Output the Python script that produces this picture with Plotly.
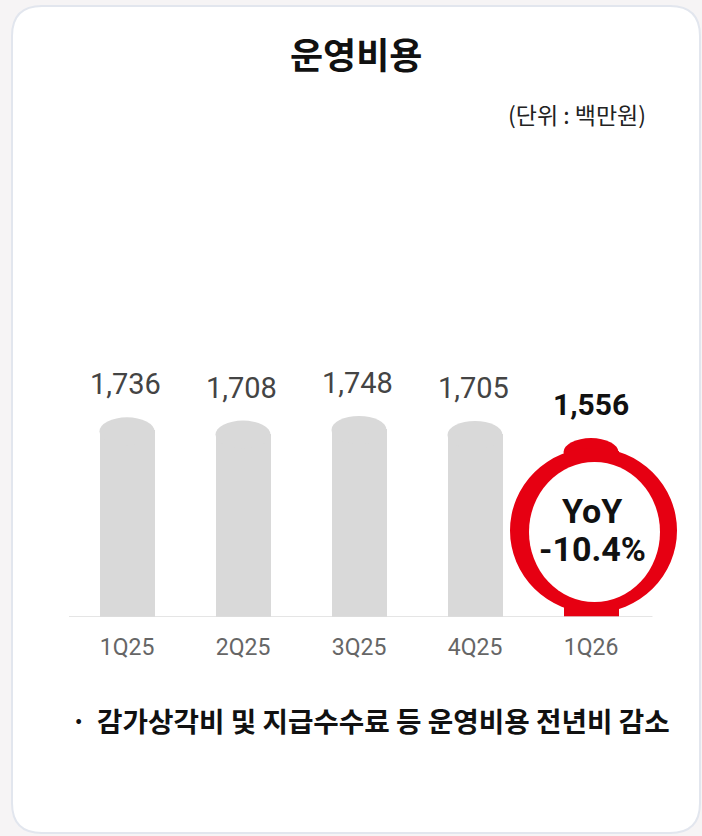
import plotly.graph_objects as go

# ---- data ----
categories = ["1Q25", "2Q25", "3Q25", "4Q25", "1Q26"]
values = [1736, 1708, 1748, 1705, 1556]
value_labels = ["1,736", "1,708", "1,748", "1,705", "1,556"]
yoy_lines = ["YoY", "-10.4%"]
title_text = "운영비용"
unit_text = "(단위 : 백만원)"
note_text = "감가상각비 및 지급수수료 등 운영비용 전년비 감소"

# ---- styling / layout constants ----
W, H = 702, 836
GRAY = "#d9d9d9"
RED = "#e60012"
PAGE_BG = "#f6f4f5"
KR_FONT = "Noto Sans CJK KR"
NUM_FONT = "Roboto"

base_px = 617          # pixel row of the baseline
top_px = 137           # pixel row of plot top
px_per_unit = 0.1150
ymax = (base_px - top_px) / px_per_unit
x_first = 127          # pixel centre of first bar
step = 116             # pixel distance between bars
xmin = -x_first / step
xmax = (W - x_first) / step
bar_w = 55 / step
cap_px = 14
cap_units = (cap_px - 1) / px_per_unit

idx = list(range(len(categories)))
colors = [GRAY] * (len(categories) - 1) + [RED]

fig = go.Figure()
fig.add_trace(go.Bar(
    x=idx,
    y=[v - cap_units for v in values],
    width=bar_w,
    marker=dict(color=colors, line=dict(width=0)),
    hoverinfo="skip",
    showlegend=False,
))

shapes = []

# card background
x0, x1 = 12 / W, 700 / W
yt, yb = 1 - 6 / H, 1 - 833 / H
rx, ry = 30 / W, 30 / H
card_path = (f"M {x0+rx},{yt} L {x1-rx},{yt} Q {x1},{yt} {x1},{yt-ry} "
             f"L {x1},{yb+ry} Q {x1},{yb} {x1-rx},{yb} L {x0+rx},{yb} "
             f"Q {x0},{yb} {x0},{yb+ry} L {x0},{yt-ry} Q {x0},{yt} {x0+rx},{yt} Z")
shapes.append(dict(type="path", xref="paper", yref="paper", path=card_path,
                   fillcolor="white", line=dict(color="#e2e6ee", width=2),
                   layer="below"))

# baseline
shapes.append(dict(type="line", xref="x", yref="y", x0=-0.5, x1=4.53, y0=0, y1=0,
                   line=dict(color="#dcdcdc", width=1.5), layer="above"))

# rounded caps on bars
for i, v in enumerate(values):
    shapes.append(dict(type="circle", xref="x", yref="y",
                       x0=i - bar_w / 2, x1=i + bar_w / 2,
                       ysizemode="pixel", yanchor=v, y0=-2 * cap_px, y1=0,
                       fillcolor=colors[i], line=dict(width=0), layer="above"))

# red ring around last bar
last = len(values) - 1
shapes.append(dict(type="circle", xref="x", yref="y",
                   xsizemode="pixel", xanchor=last, x0=-81, x1=86,
                   ysizemode="pixel", yanchor=0, y0=4, y1=169,
                   fillcolor=RED, line=dict(width=0), layer="above"))
shapes.append(dict(type="circle", xref="x", yref="y",
                   xsizemode="pixel", xanchor=last, x0=-62, x1=69,
                   ysizemode="pixel", yanchor=0, y0=15, y1=155,
                   fillcolor="white", line=dict(width=0), layer="above"))

annotations = []
# value labels
for i, (v, lab) in enumerate(zip(values, value_labels)):
    is_last = i == last
    annotations.append(dict(
        x=i, y=v, xref="x", yref="y", text=f"<b>{lab}</b>" if is_last else lab,
        showarrow=False, yanchor="bottom", yshift=14, xshift=0 if is_last else -2,
        font=dict(family=NUM_FONT, size=30 if is_last else 29,
                  color="#111111" if is_last else "#444444"),
    ))

# YoY text (two lines)
for line_txt, shift in zip(yoy_lines, [106, 68]):
    annotations.append(dict(
        x=last, y=0, xref="x", yref="y", text=f"<b>{line_txt}</b>",
        showarrow=False, xshift=1, yshift=shift, yanchor="middle",
        font=dict(family=NUM_FONT, size=34, color="#111111"),
    ))

# title, unit, note
annotations.append(dict(x=356 / W, y=1 - 53 / H, xref="paper", yref="paper",
                        text=f"<b>{title_text}</b>", showarrow=False,
                        xanchor="center", yanchor="middle",
                        font=dict(family=KR_FONT, size=36, color="#111111")))
annotations.append(dict(x=648 / W, y=1 - 114 / H, xref="paper", yref="paper",
                        text=unit_text, showarrow=False,
                        xanchor="right", yanchor="middle",
                        font=dict(family=KR_FONT, size=23, color="#222222")))
annotations.append(dict(x=78 / W, y=1 - 719 / H, xref="paper", yref="paper",
                        text="<b>·</b>", showarrow=False,
                        xanchor="center", yanchor="middle",
                        font=dict(family=KR_FONT, size=26, color="#111111")))
annotations.append(dict(x=95 / W, y=1 - 720 / H, xref="paper", yref="paper",
                        text=f"<b>{note_text}</b>", showarrow=False,
                        xanchor="left", yanchor="middle",
                        font=dict(family=KR_FONT, size=27.7, color="#111111")))

fig.update_layout(
    width=W, height=H,
    margin=dict(l=0, r=0, t=0, b=0),
    paper_bgcolor=PAGE_BG,
    plot_bgcolor="rgba(0,0,0,0)",
    shapes=shapes,
    annotations=annotations,
    bargap=0,
    xaxis=dict(
        domain=[0, 1], range=[xmin, xmax],
        tickmode="array", tickvals=idx, ticktext=categories,
        showgrid=False, zeroline=False, showline=False, ticks="",
        ticklabelstandoff=14,
        tickfont=dict(family=NUM_FONT, size=23, color="#666666"),
        fixedrange=True,
    ),
    yaxis=dict(
        domain=[(H - base_px) / H, (H - top_px) / H], range=[0, ymax],
        visible=False, showgrid=False, zeroline=False, fixedrange=True,
    ),
)

fig.write_html(
    "out.html",
    config={"displayModeBar": False},
    post_script=f"document.body.style.margin='0';document.body.style.background='{PAGE_BG}';",
)
